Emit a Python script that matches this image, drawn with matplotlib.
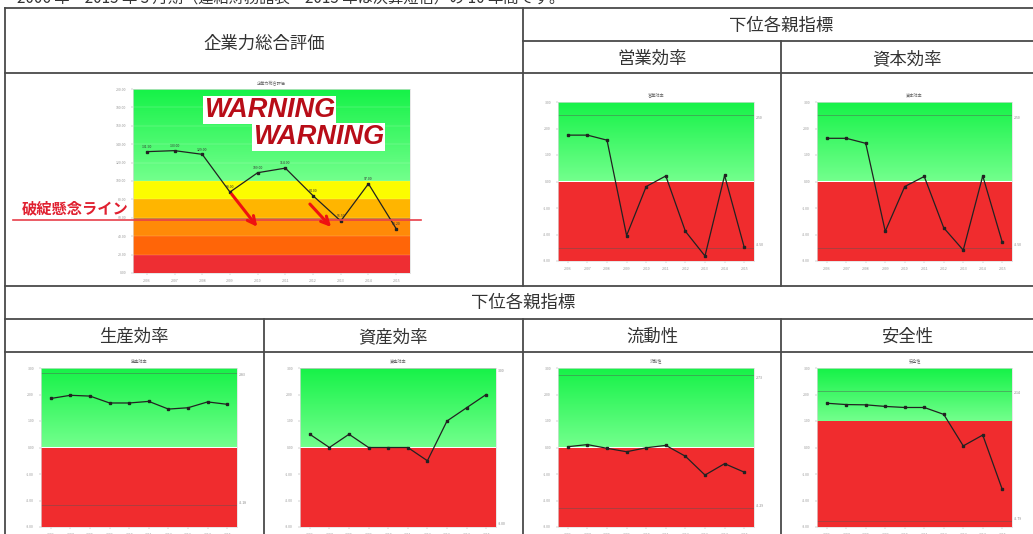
import numpy as np
import matplotlib
matplotlib.use("Agg")
import matplotlib.pyplot as plt
from matplotlib.colors import LinearSegmentedColormap

plt.rcParams['font.family'] = ['Noto Sans CJK JP', 'DejaVu Sans']

W, H = 1033, 534

years = ['2006', '2007', '2008', '2009', '2010', '2011', '2012', '2013', '2014', '2015']

# 企業力総合評価
total_score = [131.9, 133.0, 129.0, 88.0, 109.0, 114.0, 84.0, 56.5, 97.0, 48.2]
total_bands = [(0, 20, '#ee2e33'), (20, 40, '#ff6508'), (40, 60, '#ff8a08'),
               (60, 80, '#ffb500'), (80, 100, '#fcfc00')]

# 下位各親指標
eigyo = [1.75, 1.75, 1.56, -2.04, -0.19, 0.21, -1.88, -2.81, 0.23, -2.48]
shihon = [1.63, 1.63, 1.44, -1.88, -0.19, 0.19, -1.75, -2.59, 0.21, -2.29]
seisan = [1.85, 1.97, 1.94, 1.68, 1.68, 1.74, 1.45, 1.50, 1.72, 1.63]
shisan = [0.5, 0.0, 0.5, 0.0, 0.0, 0.0, -0.5, 1.0, 1.5, 2.0]
ryudo = [0.03, 0.11, -0.03, -0.16, -0.01, 0.08, -0.33, -1.04, -0.61, -0.93]
anzen = [1.67, 1.62, 1.61, 1.55, 1.51, 1.51, 1.25, 0.06, 0.47, -1.58]

sub_names = ['営業効率', '資本効率', '生産効率', '資産効率', '流動性', '安全性']
sub_values = [eigyo, shihon, seisan, shisan, ryudo, anzen]
sub_border = [0, 0, 0, 0, 0, 1.0]
sub_upper = [2.5, 2.5, 2.83, 3.0, 2.73, 2.14]
sub_lower = [-2.5, -2.5, -2.18, -3.0, -2.29, -2.79]

greens = LinearSegmentedColormap.from_list('g', ['#72ff8c', '#16f248'])


def rect(l, t, r, b):
    return [l / W, 1 - b / H, (r - l) / W, (b - t) / H]


fig = plt.figure(figsize=(W / 100, H / 100), dpi=100)
fig.patch.set_facecolor('white')

# table background
bg = fig.add_axes([0, 0, 1, 1], zorder=0)
bg.set_xlim(0, W)
bg.set_ylim(H, 0)
bg.axis('off')

lc = '#4a4a4a'
hlines = [(8, 5, W), (41, 523, W), (73, 5, W), (286, 5, W), (319, 5, W), (352, 5, W)]
vlines = [(5, 8, H), (523, 8, 286), (781, 41, 286), (264, 319, H), (523, 319, H), (781, 319, H)]
for y, x0, x1 in hlines:
    bg.plot([x0, x1], [y, y], color=lc, lw=1.3)
for x, y0, y1 in vlines:
    bg.plot([x, x], [y0, y1], color=lc, lw=1.3)

bg.text(17, -2, '2006 年～2015 年 3 月期（連結財務諸表・2015 年は決算短信）の 10 年間です。',
        fontsize=11, color='#333333', ha='left', va='center')
hdr = dict(fontsize=12.5, color='#333333', ha='center', va='center')
bg.text(264, 44, '企業力総合評価', **hdr)
bg.text(781, 26, '下位各親指標', **hdr)
bg.text(523, 303, '下位各親指標', **hdr)
header_pos = [(652, 59), (907, 59), (134, 337), (393, 337), (652, 337), (907, 337)]
for (x, y), name in zip(header_pos, sub_names):
    bg.text(x, y, name, **hdr)

x = np.arange(len(years))


def style_axes(ax, ymin, ymax, step, fmt):
    ax.set_xlim(-0.5, len(years) - 0.5)
    ax.set_ylim(ymin, ymax)
    ax.set_xticks(x)
    ax.set_xticklabels(years)
    ax.set_yticks(np.arange(ymin, ymax + step / 2, step))
    ax.set_yticklabels([fmt % v for v in np.arange(ymin, ymax + step / 2, step)])
    ax.tick_params(labelsize=2.5, colors='#999999', length=1.5, width=0.3)
    ax.tick_params(axis='x', pad=2.5)
    ax.tick_params(axis='y', pad=3.5)
    for s in ax.spines.values():
        s.set_color('#dddddd')
        s.set_linewidth(0.5)


# main chart
ax = fig.add_axes(rect(133, 89, 410, 273), zorder=1)
for lo, hi, c in total_bands:
    ax.axhspan(lo, hi, color=c, lw=0)
ax.imshow(np.linspace(0, 1, 50).reshape(-1, 1), cmap=greens, origin='lower',
          extent=(-0.5, 9.5, 100, 200), aspect='auto')
for v in range(20, 200, 20):
    ax.axhline(v, color='white', lw=0.3, alpha=0.4)
ax.axhline(60, color='#777777', lw=0.5, alpha=0.6)
ax.plot(x, total_score, color='#222222', lw=0.9, marker='s', ms=1.8)
for xi, v in zip(x, total_score):
    ax.text(xi, v + 3, '%.2f' % v, fontsize=2.5, ha='center', va='bottom', color='#333333')
style_axes(ax, 0, 200, 20, '%.2f')
ax.set_title('企業力総合評価', fontsize=3, color='#666666', pad=3)

# sub charts
sub_rects = [(558, 102, 754, 261), (817, 102, 1012, 261),
             (41, 368, 237, 527), (300, 368, 496, 527),
             (558, 368, 754, 527), (817, 368, 1012, 527)]
for r, name, vals, b, up, lo in zip(sub_rects, sub_names, sub_values, sub_border, sub_upper, sub_lower):
    a = fig.add_axes(rect(*r), zorder=1)
    a.axhspan(-3, b, color='#f02c2e', lw=0)
    a.imshow(np.linspace(0, 1, 50).reshape(-1, 1), cmap=greens, origin='lower',
             extent=(-0.5, 9.5, b, 3), aspect='auto')
    a.axhline(up, color='#555555', lw=0.5, alpha=0.6)
    a.axhline(lo, color='#555555', lw=0.5, alpha=0.6)
    a.text(9.6, up - 0.1, '%.2f' % up, fontsize=2.5, color='#888888', va='center')
    a.text(9.6, lo + 0.1, '%.2f' % lo, fontsize=2.5, color='#888888', va='center')
    a.plot(x, vals, color='#222222', lw=0.9, marker='s', ms=1.8)
    style_axes(a, -3, 3, 1, '%.2f')
    a.set_title(name, fontsize=3, color='#666666', pad=4)

# overlay: warning texts, line and arrows
fg = fig.add_axes([0, 0, 1, 1], zorder=5)
fg.set_xlim(0, W)
fg.set_ylim(H, 0)
fg.axis('off')
fg.patch.set_alpha(0)
wkw = dict(family='Liberation Sans', fontsize=19.5, fontweight='bold', style='italic',
           color='#b80d18', ha='left', va='center',
           bbox=dict(facecolor='white', edgecolor='none', pad=0.5))
fg.text(204, 110, 'WARNING', **wkw)
fg.text(253, 137, 'WARNING', **wkw)
fg.plot([13, 421], [220, 220], color='#e8404a', lw=1.2)
fg.text(22, 208, '破綻懸念ライン', fontsize=11, color='#e02030', ha='left', va='center',
        fontweight='bold')
for (x0, y0), (x1, y1) in [((230, 192), (259, 229)), ((308, 202), (333, 229))]:
    fg.annotate('', xy=(x1, y1), xytext=(x0, y0),
                arrowprops=dict(arrowstyle='->', color='#ee1111', lw=2.2,
                                mutation_scale=14))

fig.savefig('out.png', dpi=100)
